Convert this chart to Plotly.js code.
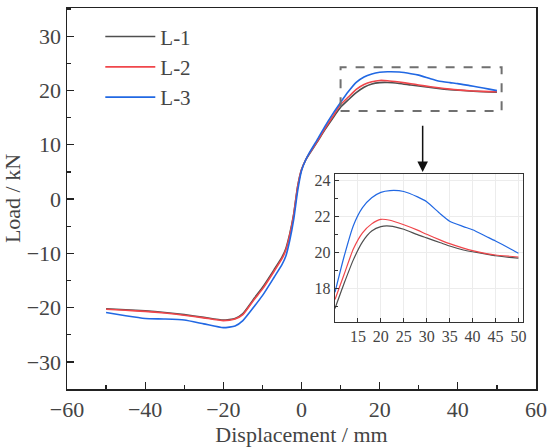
<!DOCTYPE html>
<html><head><meta charset="utf-8">
<script src="https://cdn.plot.ly/plotly-3.0.1.min.js"></script>
<style>html,body{margin:0;padding:0;background:#fff}#chart{width:550px;height:448px}</style>
</head><body>
<div id="chart"></div>
<script>
const disp = [-50,-45,-40,-35,-30,-25,-20,-17,-15,-12,-10,-7,-5,-4,-3,-2,-1,0,1,2,4,6,8,10,12,14,16,18,20,22,25,28,30,33,35,38,40,43,45,48,50];
const loadL1 = [-20.2,-20.4,-20.6,-20.9,-21.3,-21.8,-22.3,-22.0,-21.1,-18.2,-16.3,-13.0,-10.7,-9.1,-6.4,-2.8,2.3,5.4,7.1,8.3,10.5,12.8,14.9,16.9,18.3,19.6,20.6,21.2,21.45,21.48,21.3,21.0,20.82,20.55,20.37,20.15,20.05,19.92,19.83,19.74,19.7];
const loadL2 = [-20.3,-20.5,-20.7,-21.0,-21.4,-21.9,-22.4,-22.1,-21.3,-18.4,-16.6,-13.3,-11.0,-9.4,-6.6,-2.9,2.2,5.4,7.1,8.4,10.6,13.0,15.2,17.4,18.8,20.2,21.1,21.6,21.85,21.8,21.55,21.25,21.02,20.7,20.5,20.25,20.11,19.95,19.87,19.8,19.76];
const loadL3 = [-20.9,-21.5,-22.0,-22.1,-22.3,-23.0,-23.7,-23.4,-22.4,-19.7,-17.8,-14.4,-12.1,-10.5,-7.6,-3.8,1.4,5.2,7.1,8.5,10.9,13.4,15.7,17.8,19.8,21.5,22.5,23.05,23.35,23.45,23.4,23.1,22.83,22.15,21.75,21.45,21.27,20.9,20.65,20.25,19.97];
const names = ['L-1','L-2','L-3'];
const colors = ['#4f4f4f','#f0464b','#2168e3'];
const series = [loadL1, loadL2, loadL3];
const xTicks = [-60,-40,-20,0,20,40,60];
const yTicks = [-30,-20,-10,0,10,20,30];
const insetXTicks = [15,20,25,30,35,40,45,50];
const insetYTicks = [18,20,22,24];
const zoomBox = {x0:10, x1:51.2, y0:16.2, y1:24.3};

const F = 'Times New Roman';
const traces = [];
series.forEach((s,i)=>{
  traces.push({x:disp, y:s, name:names[i], type:'scatter', mode:'lines',
    line:{color:colors[i], width:1.6, shape:'spline', smoothing:0.5}, xaxis:'x', yaxis:'y'});
});
series.forEach((s,i)=>{
  const xi=[], yi=[];
  disp.forEach((d,k)=>{ if(d>=10){xi.push(d); yi.push(s[k]);} });
  traces.push({x:xi, y:yi, name:names[i], showlegend:false, type:'scatter', mode:'lines',
    line:{color:colors[i], width:1.2, shape:'spline', smoothing:0.6}, xaxis:'x2', yaxis:'y2'});
});

const layout = {
  width:550, height:448,
  margin:{l:67, r:14, t:8, b:59},
  paper_bgcolor:'#fff', plot_bgcolor:'#fff',
  font:{family:F, size:22},
  showlegend:true,
  legend:{x:0.071, y:0.978, xanchor:'left', yanchor:'top', bgcolor:'rgba(0,0,0,0)',
    font:{family:F, size:21}, itemwidth:50, tracegroupgap:0},
  xaxis:{range:[-60,60], tickvals:xTicks, ticks:'inside', ticklen:7, tickwidth:1.3, tickcolor:'#222',
    minor:{dtick:10, ticks:'inside', ticklen:4, tickwidth:1.2, tickcolor:'#222'},
    showline:true, linecolor:'#222', linewidth:1.5, mirror:true, showgrid:false, zeroline:false,
    title:{text:'Displacement / mm', font:{family:F, size:22}, standoff:2}},
  yaxis:{range:[-35,35.2], tickvals:yTicks, ticks:'inside', ticklen:7, tickwidth:1.3, tickcolor:'#222',
    minor:{dtick:5, ticks:'inside', ticklen:4, tickwidth:1.2, tickcolor:'#222'},
    showline:true, linecolor:'#222', linewidth:1.5, mirror:true, showgrid:false, zeroline:false,
    title:{text:'Load / kN', font:{family:F, size:22}, standoff:4}},
  xaxis2:{anchor:'y2', domain:[0.5714,0.9723], range:[10,51], tickvals:insetXTicks,
    ticks:'inside', ticklen:4, tickwidth:1, tickcolor:'#333',
    showline:true, linecolor:'#333', linewidth:1.3, mirror:true,
    showgrid:true, gridcolor:'#ececec', gridwidth:1, zeroline:false,
    tickfont:{family:F, size:16}},
  yaxis2:{anchor:'x2', domain:[0.1759,0.5643], range:[16.15,24.37], tickvals:insetYTicks,
    ticks:'inside', ticklen:4, tickwidth:1, tickcolor:'#333',
    minor:{dtick:1, ticks:'inside', ticklen:3, tickcolor:'#333'},
    showline:true, linecolor:'#333', linewidth:1.3, mirror:true,
    showgrid:true, gridcolor:'#ececec', gridwidth:1, zeroline:false,
    tickfont:{family:F, size:16}},
  shapes:[{type:'rect', xref:'x', yref:'y', x0:zoomBox.x0, x1:zoomBox.x1, y0:zoomBox.y0, y1:zoomBox.y1,
    line:{color:'#707070', width:2, dash:'dash'}, fillcolor:'rgba(0,0,0,0)'}],
  annotations:[{xref:'x', yref:'y', x:31, y:5.0, axref:'x', ayref:'y', ax:31, ay:13.8,
    text:'', showarrow:true, arrowhead:2, arrowsize:1.4, arrowwidth:1.5, arrowcolor:'#111'}]
};
Plotly.newPlot('chart', traces, layout, {staticPlot:true, displayModeBar:false});
</script></body></html>
